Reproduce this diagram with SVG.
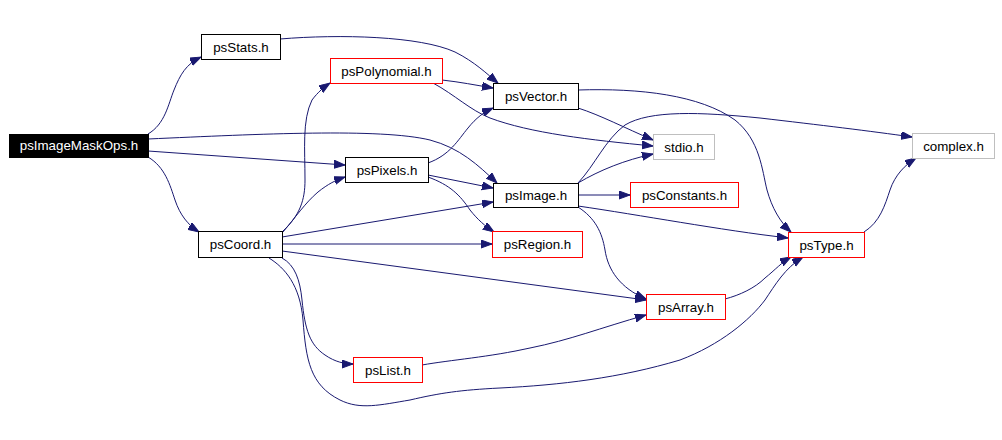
<svg xmlns="http://www.w3.org/2000/svg" width="1002" height="440" viewBox="0 0 1002 440">
<style>
.n rect{fill:#fff;stroke-width:1}
.k rect{stroke:#000}
.r rect{stroke:#ff0000}
.g rect{stroke:#bfbfbf}
text{font-family:"Liberation Sans",Arial,Helvetica,sans-serif;font-size:13.33px;text-anchor:middle;fill:#000}
#edges path{fill:none;stroke:#191970;stroke-width:1;marker-end:url(#a)}
</style>
<defs>
<marker id="a" markerWidth="12" markerHeight="9" refX="11" refY="4" orient="auto" markerUnits="userSpaceOnUse">
<path d="M0,0 L11,4 L0,8 z" fill="#191970" stroke="#191970" stroke-width="1"/>
</marker>
</defs>
<rect width="1002" height="440" fill="#fff"/>
<g id="edges">
<path d="M148,134 C165,124 168,105 174,90 C180,75 186,64 201,57"/>
<path d="M148,139 C260,134 380,128 430,140 C460,148 478,165 497,183"/>
<path d="M148,151 L345,165"/>
<path d="M148,157 C165,167 170,185 175,200 C180,215 188,225 199,232"/>
<path d="M280,39 C340,34 420,36 455,52 C475,62 487,74 498,83"/>
<path d="M442,80 C460,82 475,85 493,88"/>
<path d="M433,83 C455,95 470,110 490,118 C530,133 590,140 653,146"/>
<path d="M578,108 C600,115 625,128 653,140"/>
<path d="M578,90 C640,88 700,95 735,120 C760,140 762,170 767,190 C772,208 780,222 791,232"/>
<path d="M428,163 C450,155 458,140 468,128 C476,118 484,112 493,108"/>
<path d="M428,175 L493,188"/>
<path d="M428,177 C450,185 460,195 470,210 C478,220 485,226 494,232"/>
<path d="M578,183 C600,170 625,160 653,154"/>
<path d="M578,183 C595,165 605,140 625,125 C650,110 700,112 760,118 C820,125 870,131 912,137"/>
<path d="M578,195 L630,195"/>
<path d="M578,206 C640,215 720,230 788,238"/>
<path d="M578,207 C595,218 602,232 605,250 C608,270 620,288 646,299"/>
<path d="M283,231 C300,215 305,200 305,180 C305,150 302,120 312,100 C318,92 324,87 330,83"/>
<path d="M283,232 C295,218 305,203 318,192 C328,184 336,180 345,177"/>
<path d="M282,237 L493,202"/>
<path d="M282,244 L492,244"/>
<path d="M282,251 L646,300"/>
<path d="M282,258 C295,265 300,280 302,300 C305,330 310,345 325,355 C335,362 345,364 353,364"/>
<path d="M269,258 C285,268 300,285 303,320 C306,360 310,385 340,400 C360,410 380,405 410,400 C440,393 460,390 500,388 C560,385 620,378 680,360 C720,345 750,320 765,300 C775,285 785,268 803,257"/>
<path d="M422,365 C450,360 490,357 530,348 C570,340 600,328 646,315"/>
<path d="M725,299 C740,295 755,288 765,278 C775,270 782,262 791,257"/>
<path d="M864,232 C880,222 885,205 890,190 C895,175 905,165 916,158"/>
</g>
<g id="psImageMaskOps" class="n"><rect x="9.5" y="134.5" width="139" height="23" fill="#000" style="fill:#000;stroke:#000"/><text x="79" y="150" style="fill:#fff">psImageMaskOps.h</text></g>
<g id="psStats" class="n k"><rect x="201.5" y="34.5" width="79" height="25"/><text x="241" y="51.5">psStats.h</text></g>
<g id="psPolynomial" class="n r"><rect x="330.5" y="58.5" width="112" height="25"/><text x="386.5" y="75.5">psPolynomial.h</text></g>
<g id="psVector" class="n k"><rect x="493.5" y="83.5" width="85" height="26"/><text x="536" y="100.5">psVector.h</text></g>
<g id="psPixels" class="n k"><rect x="345.5" y="157.5" width="83" height="25"/><text x="387" y="174.5">psPixels.h</text></g>
<g id="psImage" class="n k"><rect x="493.5" y="183.5" width="85" height="24"/><text x="536" y="200">psImage.h</text></g>
<g id="psRegion" class="n r"><rect x="492.5" y="231.5" width="90" height="26"/><text x="537.5" y="249">psRegion.h</text></g>
<g id="stdio" class="n g"><rect x="653.5" y="134.5" width="61" height="25"/><text x="684" y="151.5">stdio.h</text></g>
<g id="complex" class="n g"><rect x="912.5" y="133.5" width="82" height="25"/><text x="953.5" y="150.5">complex.h</text></g>
<g id="psConstants" class="n r"><rect x="630.5" y="182.5" width="108" height="25"/><text x="684.5" y="199.5">psConstants.h</text></g>
<g id="psType" class="n r"><rect x="788.5" y="232.5" width="76" height="25"/><text x="826.5" y="249.5">psType.h</text></g>
<g id="psCoord" class="n k"><rect x="198.5" y="231.5" width="84" height="26"/><text x="240.5" y="249">psCoord.h</text></g>
<g id="psArray" class="n r"><rect x="646.5" y="294.5" width="79" height="25"/><text x="686" y="311.5">psArray.h</text></g>
<g id="psList" class="n r"><rect x="353.5" y="357.5" width="69" height="25"/><text x="388" y="374.5">psList.h</text></g>
</svg>
